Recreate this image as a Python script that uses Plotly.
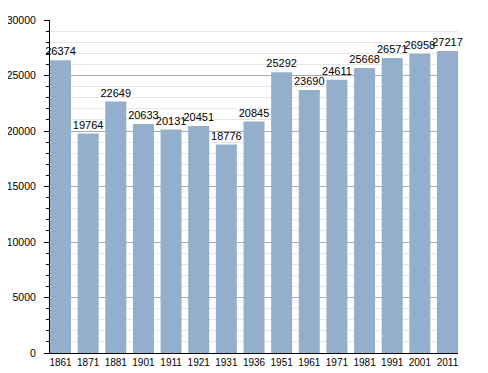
import plotly.graph_objects as go

years = ["1861", "1871", "1881", "1901", "1911", "1921", "1931", "1936",
         "1951", "1961", "1971", "1981", "1991", "2001", "2011"]
population = [26374, 19764, 22649, 20633, 20131, 20451, 18776, 20845,
              25292, 23690, 24611, 25668, 26571, 26958, 27217]

fig = go.Figure(go.Bar(
    x=years, y=population,
    text=[str(v) for v in population],
    textposition="outside", cliponaxis=False, constraintext="none",
    textfont=dict(family="Liberation Sans, Arial", size=11, color="black"),
    marker=dict(color="#94afcb", line=dict(width=0)),
    width=0.76,
))

# page body has an 8px margin, so figure is 480x365 placed at (8, 8)
fig.update_layout(
    width=480, height=365,
    margin=dict(l=42, r=30, t=12, b=20, autoexpand=False),
    paper_bgcolor="white", plot_bgcolor="white",
    showlegend=False,
    font=dict(family="Liberation Sans, Arial", size=10, color="black"),
)
fig.update_xaxes(
    type="category", range=[-0.38, 14.38],
    showline=True, linecolor="black", linewidth=1,
    ticks="", showgrid=False, automargin=False,
    tickfont=dict(size=10),
)
fig.update_yaxes(
    range=[0, 30000], dtick=5000, tickformat="d",
    showline=True, linecolor="black", linewidth=1,
    ticks="outside", ticklen=5, tickcolor="black",
    ticklabelstandoff=6,
    showgrid=True, gridcolor="#aaaaaa", gridwidth=1,
    zeroline=False, automargin=False,
    tickfont=dict(size=10.5),
    minor=dict(dtick=1000, ticks="outside", ticklen=3, tickcolor="black",
               showgrid=True, gridcolor="#e6e6e6", gridwidth=1),
)

fig.write_html("out.html")
